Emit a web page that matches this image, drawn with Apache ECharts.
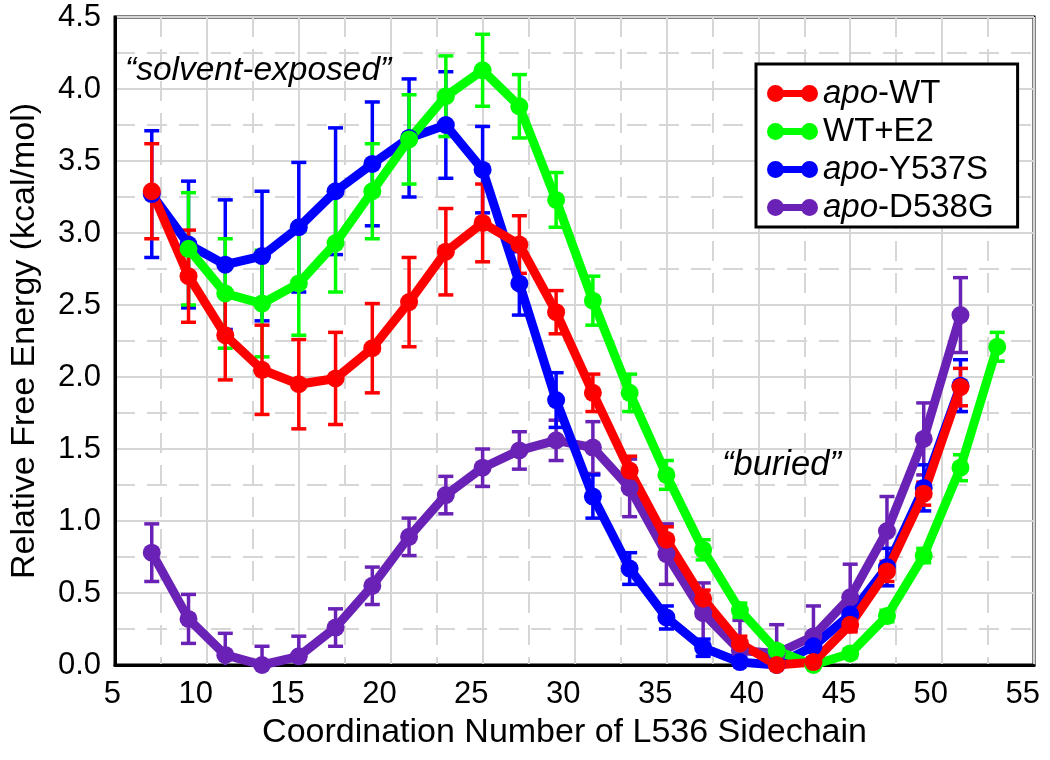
<!DOCTYPE html>
<html>
<head>
<meta charset="utf-8">
<script src="https://cdn.jsdelivr.net/npm/echarts@6/dist/echarts.min.js"></script>
<style>
html,body{margin:0;padding:0;background:#fff;}
#chart{width:1050px;height:760px;}
</style>
</head>
<body>
<div id="chart"></div>
<script>
// ---- data ----
const xA = [7, 9, 11, 13, 15, 17, 19, 21, 23, 25, 27, 29, 31, 33, 35, 37, 39, 41, 43, 45, 47, 49, 51];
const xB = [9, 11, 13, 15, 17, 19, 21, 23, 25, 27, 29, 31, 33, 35, 37, 39, 41, 43, 45, 47, 49, 51, 53];

const wtY    = [3.29, 2.70, 2.29, 2.05, 1.95, 1.99, 2.20, 2.52, 2.87, 3.07, 2.92, 2.45, 1.89, 1.35, 0.87, 0.46, 0.15, 0.00, 0.02, 0.28, 0.65, 1.19, 1.93];
const wtErr  = [0.33, 0.32, 0.31, 0.31, 0.31, 0.32, 0.31, 0.31, 0.30, 0.27, 0.20, 0.15, 0.13, 0.10, 0.09, 0.06, 0.05, 0.02, 0.03, 0.05, 0.07, 0.08, 0.13];

const e2Y    = [2.89, 2.58, 2.51, 2.65, 2.93, 3.29, 3.65, 3.95, 4.13, 3.88, 3.23, 2.53, 1.89, 1.32, 0.80, 0.38, 0.10, 0.00, 0.08, 0.34, 0.76, 1.37, 2.21];
const e2Err  = [0.39, 0.38, 0.37, 0.36, 0.34, 0.33, 0.31, 0.28, 0.25, 0.22, 0.19, 0.17, 0.13, 0.10, 0.07, 0.05, 0.03, 0.02, 0.03, 0.04, 0.05, 0.09, 0.10];

const y537Y  = [3.27, 2.92, 2.78, 2.84, 3.04, 3.29, 3.48, 3.66, 3.75, 3.44, 2.65, 1.84, 1.17, 0.67, 0.33, 0.12, 0.02, 0.00, 0.13, 0.35, 0.68, 1.23, 1.94];
const y537Err= [0.44, 0.44, 0.45, 0.45, 0.45, 0.44, 0.43, 0.41, 0.37, 0.30, 0.22, 0.19, 0.15, 0.11, 0.08, 0.06, 0.03, 0.02, 0.04, 0.05, 0.13, 0.16, 0.18];

const d538Y  = [0.78, 0.32, 0.07, 0.00, 0.06, 0.26, 0.55, 0.89, 1.18, 1.37, 1.49, 1.56, 1.51, 1.23, 0.77, 0.36, 0.10, 0.08, 0.20, 0.47, 0.93, 1.57, 2.43];
const d538Err= [0.20, 0.17, 0.15, 0.13, 0.14, 0.13, 0.13, 0.13, 0.13, 0.13, 0.13, 0.14, 0.18, 0.20, 0.21, 0.21, 0.21, 0.20, 0.21, 0.23, 0.24, 0.25, 0.26];

const seriesNames = ['apo-WT', 'WT+E2', 'apo-Y537S', 'apo-D538G'];
const colors = {'apo-WT': '#ff0000', 'WT+E2': '#00ff00', 'apo-Y537S': '#0000ff', 'apo-D538G': '#6a22b6'};
const annotations = ['\u201csolvent-exposed\u201d', '\u201cburied\u201d'];

// ---- chart ----
const FONT = '"Liberation Sans", Arial, Helvetica, sans-serif';
const chart = echarts.init(document.getElementById('chart'), null, {renderer: 'canvas'});

function pts(xs, ys) { return xs.map((x, i) => [x, ys[i]]); }
function errs(xs, ys, es) { return xs.map((x, i) => [x, ys[i] - es[i], ys[i] + es[i]]); }

function errSeries(name, data) {
  const c = colors[name];
  return {
    name: name, type: 'custom', data: data, clip: true, silent: true,
    itemStyle: {color: c},
    encode: {x: 0, y: [1, 2]},
    renderItem: function (params, api) {
      const x = api.value(0);
      const lo = api.coord([x, api.value(1)]);
      const hi = api.coord([x, api.value(2)]);
      const w = 7.5;
      const st = {stroke: c, lineWidth: 3.5};
      return {type: 'group', children: [
        {type: 'line', shape: {x1: lo[0], y1: lo[1], x2: hi[0], y2: hi[1]}, style: st},
        {type: 'line', shape: {x1: lo[0] - w, y1: lo[1], x2: lo[0] + w, y2: lo[1]}, style: st},
        {type: 'line', shape: {x1: hi[0] - w, y1: hi[1], x2: hi[0] + w, y2: hi[1]}, style: st}
      ]};
    }
  };
}
function lineSeries(name, data) {
  const c = colors[name];
  return {
    name: name, type: 'line', data: data, clip: false,
    symbol: 'circle', symbolSize: 18, showSymbol: true,
    lineStyle: {color: c, width: 9},
    itemStyle: {color: c, borderWidth: 0},
    emphasis: {disabled: true}
  };
}

const dumbbell = 'path://M0,8.5A8.5,8.5,0,1,1,17,8.5A8.5,8.5,0,1,1,0,8.5ZM34,8.5A8.5,8.5,0,1,1,51,8.5A8.5,8.5,0,1,1,34,8.5ZM8,5L43,5L43,12L8,12Z';

const option = {
  animation: false,
  backgroundColor: '#ffffff',
  grid: {left: 111, right: 16, top: 17, bottom: 95, show: true, borderColor: '#000', borderWidth: 3, backgroundColor: 'transparent', containLabel: false},
  xAxis: {
    type: 'value', min: 5, max: 55, interval: 5,
    name: 'Coordination Number of L536 Sidechain', nameLocation: 'middle', nameGap: 51,
    nameTextStyle: {fontSize: 34, fontFamily: FONT, color: '#000', padding: [0, 20, 0, 0]},
    axisLine: {show: true, lineStyle: {color: '#000', width: 3}},
    axisTick: {show: false},
    axisLabel: {fontSize: 31, fontFamily: FONT, color: '#000', margin: 14, align: 'right', padding: [0, -6, 0, 0]},
    splitLine: {show: true, lineStyle: {color: '#d6d6d6', width: 2}},
    minorTick: {show: false, splitNumber: 2},
    minorSplitLine: {show: true, lineStyle: {color: '#d6d6d6', width: 2, type: [20, 12]}}
  },
  yAxis: {
    type: 'value', min: 0, max: 4.5, interval: 0.5,
    name: 'Relative Free Energy (kcal/mol)', nameLocation: 'middle', nameGap: 73,
    nameTextStyle: {fontSize: 34, fontFamily: FONT, color: '#000'},
    axisLine: {show: true, lineStyle: {color: '#000', width: 3}},
    axisTick: {show: false},
    axisLabel: {fontSize: 31, fontFamily: FONT, color: '#000', margin: 14, formatter: v => v.toFixed(1)},
    splitLine: {show: true, lineStyle: {color: '#d6d6d6', width: 2}},
    minorTick: {show: false, splitNumber: 2},
    minorSplitLine: {show: true, lineStyle: {color: '#d6d6d6', width: 2, type: [20, 12]}}
  },
  legend: {
    show: true, orient: 'vertical', left: 756, top: 64,
    data: seriesNames.map(n => ({name: n, icon: dumbbell})),
    itemWidth: 51, itemHeight: 17, itemGap: 5,
    backgroundColor: '#fff', borderColor: '#000', borderWidth: 3, borderRadius: 0,
    padding: [13, 24, 3, 11],
    selectedMode: false,
    itemStyle: {borderWidth: 0},
    formatter: function (name) {
      if (name.indexOf('apo-') === 0) return '{i|apo}{n|-' + name.slice(4) + '}';
      return '{n|' + name + '}';
    },
    textStyle: {
      fontSize: 33, fontFamily: FONT, color: '#000', lineHeight: 30, padding: [0, 0, 0, 0],
      rich: {
        i: {fontSize: 33, fontStyle: 'italic', fontFamily: FONT, color: '#000', lineHeight: 30},
        n: {fontSize: 33, fontFamily: FONT, color: '#000', lineHeight: 30}
      }
    }
  },
  graphic: [
    {type: 'text', left: 125, top: 54, z: 100, style: {text: annotations[0], font: 'italic 33.5px ' + FONT, fill: '#000'}},
    {type: 'text', left: 722, top: 448, z: 100, style: {text: annotations[1], font: 'italic 34.5px ' + FONT, fill: '#000'}}
  ],
  series: [
    errSeries('apo-D538G', errs(xA, d538Y, d538Err)),
    lineSeries('apo-D538G', pts(xA, d538Y)),
    errSeries('apo-Y537S', errs(xA, y537Y, y537Err)),
    lineSeries('apo-Y537S', pts(xA, y537Y)),
    errSeries('WT+E2', errs(xB, e2Y, e2Err)),
    lineSeries('WT+E2', pts(xB, e2Y)),
    errSeries('apo-WT', errs(xA, wtY, wtErr)),
    lineSeries('apo-WT', pts(xA, wtY))
  ]
};
chart.setOption(option);
</script>
</body>
</html>
